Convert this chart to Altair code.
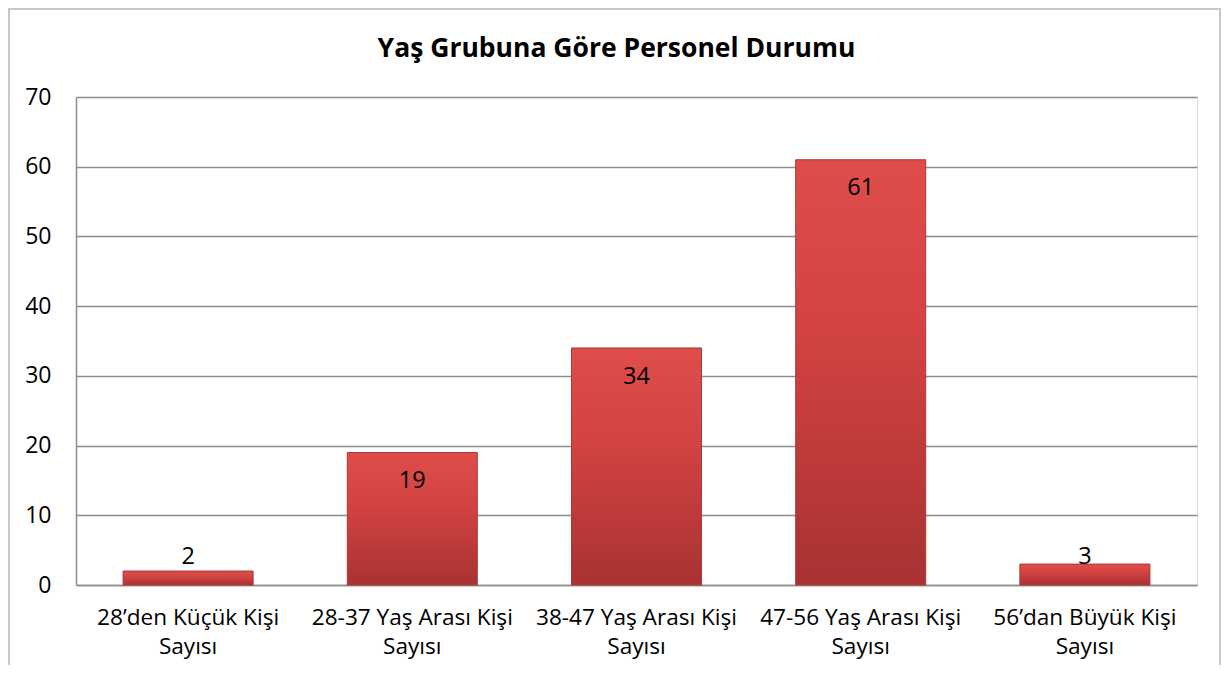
import altair as alt
import pandas as pd

title_text = "Yaş Grubuna Göre Personel Durumu"
categories = [
    "28’den Küçük Kişi Sayısı",
    "28-37 Yaş Arası Kişi Sayısı",
    "38-47 Yaş Arası Kişi Sayısı",
    "47-56 Yaş Arası Kişi Sayısı",
    "56’dan Büyük Kişi Sayısı",
]
values = [2, 19, 34, 61, 3]
y_ticks = [0, 10, 20, 30, 40, 50, 60, 70]

df = pd.DataFrame({"cat": categories, "v": values})

FONT = "Open Sans"
PW, PH = 1121, 488
PAD_L, PAD_T, PAD_R, PAD_B = 68, 89, 24, 80

x_enc = alt.X("cat:N", sort=categories, title=None,
              scale=alt.Scale(paddingInner=0.42, paddingOuter=0.21),
              axis=alt.Axis(labelAngle=0, ticks=False, domain=True, domainColor="#8c8c8c",
                            domainWidth=1.5, labelFont=FONT, labelFontSize=22.6, labelColor="#000000",
                            labelPadding=21, labelLineHeight=29, labelBaseline="top",
                            labelExpr="[replace(datum.label, ' Sayısı', ''), 'Sayısı']",
                            labelLimit=400))
y_scale = alt.Scale(domain=[0, 70], nice=False)

bars = alt.Chart(df).mark_bar(
    color=alt.Gradient(gradient="linear", x1=0, x2=0, y1=0, y2=1,
                       stops=[alt.GradientStop(color="#de4d4a", offset=0),
                              alt.GradientStop(color="#d24341", offset=0.4),
                              alt.GradientStop(color="#a83232", offset=1)]),
    stroke="#b03636", strokeWidth=1,
).encode(
    x=x_enc,
    y=alt.Y("v:Q", scale=y_scale, title=None,
            axis=alt.Axis(values=y_ticks, ticks=False, domain=True, domainColor="#8c8c8c",
                          domainWidth=1.5, grid=True, gridColor="#8c8c8c", gridWidth=1.5,
                          labelFont=FONT, labelFontSize=23, labelColor="#000000",
                          labelPadding=25)),
)

labels = alt.Chart(df).transform_calculate(
    ly="max(datum.v - 4.1, 4.0)"
).mark_text(font=FONT, fontSize=23.5, color="#000000", baseline="middle").encode(
    x=alt.X("cat:N", sort=categories),
    y=alt.Y("ly:Q", scale=y_scale),
    text=alt.Text("v:Q"),
)

title = alt.Chart(pd.DataFrame({"t": [title_text]})).mark_text(
    font=FONT, fontSize=26.5, fontWeight="bold", color="#000000", align="center", baseline="middle"
).encode(x=alt.value(PW / 2 - 20), y=alt.value(-48), text="t:N")

frame = alt.Chart(df).mark_rect(fill=None, stroke="#c8c8c8", strokeWidth=2).encode(
    x=alt.value(-PAD_L + 1), x2=alt.value(PW + PAD_R - 1),
    y=alt.value(-PAD_T + 1), y2=alt.value(PH + PAD_B + 20),
)

chart = alt.layer(bars, labels, title, frame).properties(
    width=PW, height=PH,
    autosize=alt.AutoSizeParams(type="none"),
    padding={"left": PAD_L, "top": PAD_T, "right": PAD_R, "bottom": PAD_B},
).configure_view(stroke=None).configure(background="white")

chart.save("out.html", embed_options={"renderer": "svg", "actions": False})
